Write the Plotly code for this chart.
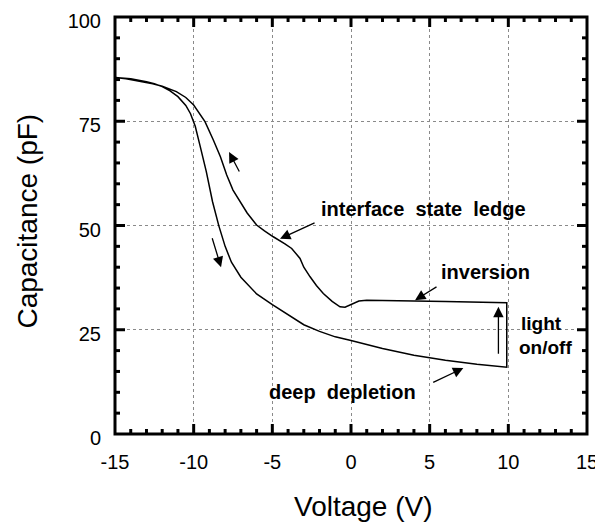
import plotly.graph_objects as go

# Forward sweep (deep depletion), voltage in V, capacitance in pF
v_dep = [-15, -14, -13, -12.5, -12, -11.5, -11, -10.5, -10.2, -9.9, -9.6, -9.2, -8.8, -8.4,
         -8.0, -7.6, -7.0, -6.0, -5.0, -4.0, -3.0, -2.0, -1.0, 0, 2, 4, 6, 8, 9.9]
c_dep = [85.5, 85.2, 84.5, 84.0, 83.3, 82.3, 80.9, 78.8, 76.8, 73.8, 69.2, 63.0, 55.7, 49.9,
         45.0, 41.2, 37.6, 33.6, 31.0, 28.6, 26.2, 24.6, 23.3, 22.4, 20.5, 18.9, 17.7, 16.7, 16.0]

# Return sweep (inversion, with interface state ledge)
v_inv = [9.9, 8, 6, 4, 2, 1.0, 0.5, 0.15, -0.38, -0.7, -1.2, -1.76, -2.2, -2.6, -3.0, -3.24,
         -3.77, -4.2, -4.51, -4.94, -5.5, -6.0, -6.6, -7.05, -7.5, -7.9, -8.3, -8.75, -9.28,
         -10.0, -10.5, -11.1, -12, -12.6, -13.5, -14.3, -15]
c_inv = [31.5, 31.7, 31.8, 31.9, 32.0, 32.1, 31.9, 31.3, 30.4, 30.5, 31.8, 33.7, 35.6, 37.7,
         40.0, 42.1, 44.5, 45.6, 46.4, 47.3, 48.7, 50.1, 53.0, 55.7, 58.5, 62.1, 66.5, 70.5,
         74.9, 78.9, 80.7, 82.1, 83.4, 84.0, 84.7, 85.2, 85.5]

x_ticks = [-15, -10, -5, 0, 5, 10, 15]
y_ticks = [0, 25, 50, 75, 100]
x_minor_step = 1
y_minor_step = 5

FONT = "Arial, Liberation Sans, Helvetica, sans-serif"

fig = go.Figure()
fig.add_trace(go.Scatter(x=v_dep + v_inv, y=c_dep + c_inv, mode="lines",
                         line=dict(color="black", width=1.5), showlegend=False,
                         hoverinfo="skip"))

def arrow(x, y, ax, ay):
    fig.add_annotation(x=x, y=y, ax=ax, ay=ay, xref="x", yref="y", axref="x", ayref="y",
                       text="", showarrow=True, arrowhead=2, arrowsize=1.6,
                       arrowwidth=1.3, arrowcolor="black", standoff=0, startstandoff=0)

arrow(-7.75, 67.6, -7.05, 62.6)     # up arrow on return sweep
arrow(-8.26, 40.0, -8.85, 47.3)     # down arrow on forward sweep
arrow(-4.51, 46.8, -2.22, 50.8)     # interface state ledge
arrow(4.07, 32.1, 5.53, 35.5)       # inversion
arrow(9.37, 30.5, 9.37, 18.9)       # light on/off
arrow(7.14, 15.8, 5.13, 12.2)       # deep depletion

def label(x, y, text, xanchor="left", size=20):
    fig.add_annotation(x=x, y=y, xref="x", yref="y", text=text, showarrow=False,
                       xanchor=xanchor, yanchor="middle", borderpad=0,
                       font=dict(family=FONT, size=size, color="black", weight="bold"))

label(-1.97, 54.0, "interface  state  ledge")
label(5.66, 38.8, "inversion")
label(10.75, 26.6, "light", size=19)
label(10.62, 20.8, "on/off", size=19)
label(-0.57, 10.1, "deep  depletion", xanchor="center")

# axis titles as paper annotations for exact placement
fig.add_annotation(x=-0.185, y=0.511, xref="paper", yref="paper", text="Capacitance (pF)",
                   textangle=-90, showarrow=False, xanchor="center", yanchor="middle",
                   font=dict(family=FONT, size=28, color="black"))
fig.add_annotation(x=0.527, y=-0.173, xref="paper", yref="paper", text="Voltage (V)",
                   showarrow=False, xanchor="center", yanchor="middle",
                   font=dict(family=FONT, size=28, color="black"))

# frame and inward ticks (major + minor) on all four sides, as shapes
LINE = dict(color="black", width=3)
fig.add_shape(type="rect", xref="paper", yref="paper", x0=0, x1=1, y0=0, y1=1,
              line=LINE, layer="above")

def xtick(v, length):
    for anchor, sign in ((0, 1), (1, -1)):
        fig.add_shape(type="line", xref="x", yref="paper", ysizemode="pixel", yanchor=anchor,
                      x0=v, x1=v, y0=0, y1=sign * length, line=LINE, layer="above")

def ytick(v, length):
    for anchor, sign in ((0, 1), (1, -1)):
        fig.add_shape(type="line", yref="y", xref="paper", xsizemode="pixel", xanchor=anchor,
                      y0=v, y1=v, x0=0, x1=sign * length, line=LINE, layer="above")

x_lo, x_hi = x_ticks[0], x_ticks[-1]
for k in range(int((x_hi - x_lo) / x_minor_step) + 1):
    v = x_lo + k * x_minor_step
    if v in (x_lo, x_hi):
        continue
    xtick(v, 10 if v in x_ticks else 5)

y_lo, y_hi = y_ticks[0], y_ticks[-1]
for k in range(int((y_hi - y_lo) / y_minor_step) + 1):
    v = y_lo + k * y_minor_step
    if v in (y_lo, y_hi):
        continue
    ytick(v, 10 if v in y_ticks else 5)

def axis(rng, vals, standoff, shift):
    return dict(
        range=rng, tickmode="array", tickvals=vals, ticktext=[str(v) for v in vals],
        showline=False, ticks="",
        showgrid=True, gridcolor="#8a8a8a", gridwidth=1, griddash="dot",
        zeroline=False, automargin=False,
        ticklabeloverflow="allow", ticklabelstandoff=standoff, ticklabelshift=shift,
        tickfont=dict(family=FONT, size=20, color="black"),
    )

# page body has an 8px margin, so the figure is shrunk and margins shifted by 8px
fig.update_layout(width=595, height=517, margin=dict(l=107, r=16, t=9, b=91),
                  plot_bgcolor="white", paper_bgcolor="white", showlegend=False,
                  template="none",
                  xaxis=axis([-15, 15], x_ticks, 14, 0),
                  yaxis=axis([0, 100], y_ticks, 13, 4))

fig.write_html("out.html")
